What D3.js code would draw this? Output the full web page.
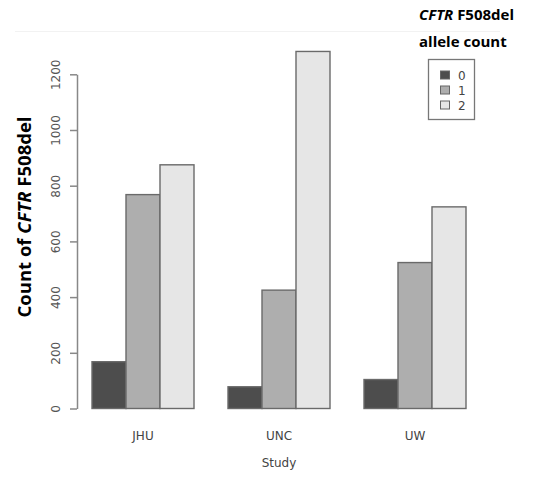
<!DOCTYPE html>
<html><head><meta charset="utf-8">
<script src="https://cdn.jsdelivr.net/npm/d3@7"></script>
<style>html,body{margin:0;padding:0;background:#fff;}</style>
</head><body>
<svg id="chart" width="536" height="482"></svg>
<script>
const studies = ["JHU", "UNC", "UW"];
const alleleCounts = ["0", "1", "2"];
const count0 = [168, 78, 104];
const count1 = [768, 425, 524];
const count2 = [875, 1282, 724];
const yTicks = [0, 200, 400, 600, 800, 1000, 1200];
const colors = ["#4d4d4d", "#aeaeae", "#e6e6e6"];

const series = [count0, count1, count2];
const data = [];
studies.forEach((s, i) => alleleCounts.forEach((a, j) => data.push({study: s, allele: a, value: series[j][i]})));

const svg = d3.select("#chart");
const y = d3.scaleLinear().domain([0, 1200]).range([408.5, 74.3]);
const x0 = d3.scaleBand().domain(studies).range([58, 500]).paddingInner(0.25).paddingOuter(0.25);
const x1 = d3.scaleBand().domain(alleleCounts).range([0, x0.bandwidth()]).padding(0);
const color = d3.scaleOrdinal().domain(alleleCounts).range(colors);

// faint line
svg.append("line").attr("x1", 15).attr("x2", 500).attr("y1", 31.5).attr("y2", 31.5)
  .attr("stroke", "#f2f2f2").attr("stroke-width", 1);

// bars
svg.append("g").selectAll("rect").data(data).join("rect")
  .attr("x", d => x0(d.study) + x1(d.allele))
  .attr("y", d => y(d.value))
  .attr("width", x1.bandwidth())
  .attr("height", d => y(0) - y(d.value))
  .attr("fill", d => color(d.allele))
  .attr("stroke", "#6a6a6a").attr("stroke-width", 1.4);

// y axis
const yAxis = d3.axisLeft(y).tickValues(yTicks).tickSize(7).tickSizeOuter(0).tickFormat(d3.format("d"));
const gy = svg.append("g").attr("transform", "translate(77,0)").call(yAxis);
gy.select(".domain").attr("stroke", "#888").attr("stroke-width", 1.5);
gy.selectAll(".tick line").attr("stroke", "#888").attr("stroke-width", 1.5);
gy.selectAll(".tick text")
  .attr("transform", "rotate(-90)")
  .attr("x", 0).attr("y", -17).attr("dy", 0)
  .attr("text-anchor", "middle")
  .attr("fill", "#555")
  .style("font-family", "DejaVu Sans").style("font-size", "12px");

// x category labels
const gx = svg.append("g");
gx.selectAll("text").data(studies).join("text")
  .attr("x", d => x0(d) + x0.bandwidth() / 2)
  .attr("y", 440)
  .attr("text-anchor", "middle")
  .attr("fill", "#444")
  .style("font-family", "DejaVu Sans").style("font-size", "12px")
  .text(d => d);

svg.append("text").attr("x", 279).attr("y", 467).attr("text-anchor", "middle")
  .attr("fill", "#444").style("font-family", "DejaVu Sans").style("font-size", "12px")
  .text("Study");

// y title
const yt = svg.append("text")
  .attr("transform", "translate(31,217) rotate(-90)")
  .attr("text-anchor", "middle")
  .style("font-family", "Open Sans").style("font-weight", "bold").style("font-size", "18.5px")
  .attr("fill", "#000");
yt.append("tspan").text("Count of ");
yt.append("tspan").style("font-style", "italic").text("CFTR");
yt.append("tspan").text(" F508del");

// legend title
const lt = svg.append("text").attr("x", 419).attr("y", 20)
  .style("font-family", "Open Sans").style("font-weight", "bold").style("font-size", "15px").attr("fill", "#000");
lt.append("tspan").style("font-style", "italic").text("CFTR");
lt.append("tspan").text(" F508del");
svg.append("text").attr("x", 419).attr("y", 47)
  .style("font-family", "Open Sans").style("font-weight", "bold").style("font-size", "15px").attr("fill", "#000")
  .text("allele count");

// legend
svg.append("rect").attr("x", 428.5).attr("y", 59.5).attr("width", 46).attr("height", 60)
  .attr("fill", "none").attr("stroke", "#777").attr("stroke-width", 1.3);
const lg = svg.append("g").selectAll("g").data(alleleCounts).join("g")
  .attr("transform", (d, i) => `translate(0,${75 + i * 15})`);
lg.append("rect").attr("x", 440.5).attr("y", -4).attr("width", 9).attr("height", 8)
  .attr("fill", d => color(d)).attr("stroke", "#666").attr("stroke-width", 1);
lg.append("text").attr("x", 458).attr("y", 4.5)
  .attr("fill", "#444")
  .style("font-family", "DejaVu Sans").style("font-size", "12px")
  .text(d => d);
</script>
</body></html>
